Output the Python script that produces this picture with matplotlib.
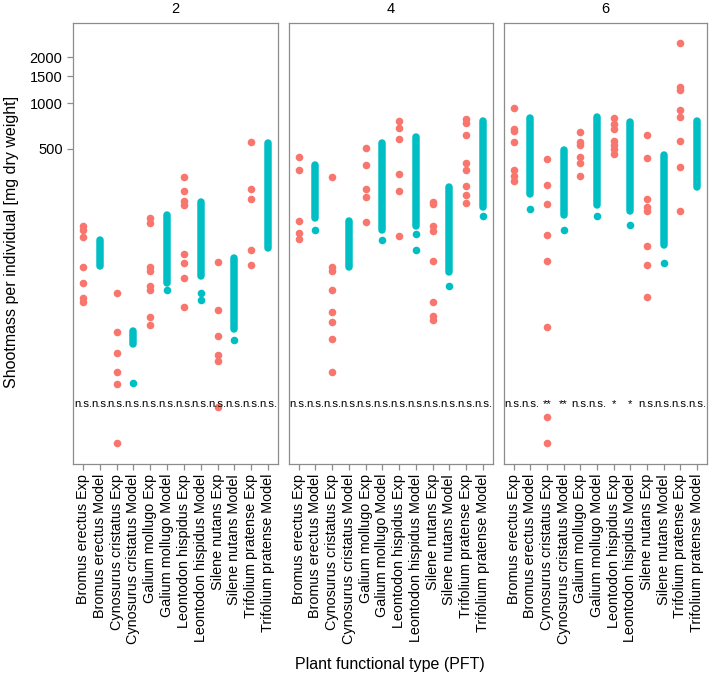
import numpy as np
import matplotlib
matplotlib.use("Agg")
import matplotlib.pyplot as plt

plt.rcParams['font.family'] = ['Liberation Sans', 'DejaVu Sans']

species = ["Bromus erectus", "Cynosurus cristatus", "Galium mollugo",
           "Leontodon hispidus", "Silene nutans", "Trifolium pratense"]
categories = []
for s in species:
    categories += [s + " Exp", s + " Model"]

panels = ["2", "4", "6"]

# Experimental observations (mg dry weight), per species
exp_2 = [
    [157, 148, 133, 84, 66, 53, 50],
    [57, 31.6, 23.2, 17.4, 14.5, 5.9],
    [177, 165, 85, 80, 63, 60, 40, 35],
    [327, 267, 229, 216, 103, 90, 72, 46],
    [91, 44, 30, 22.5, 20.4, 10.3],
    [552, 273, 236, 109, 87],
]
exp_4 = [
    [441, 365, 170, 141, 128],
    [330, 85, 80, 59.5, 42.7, 37.1, 28.7, 17.4],
    [505, 393, 273, 242, 166],
    [763, 691, 578, 343, 267, 134],
    [226, 217, 157, 146, 93, 50, 40.6, 38.2],
    [791, 741, 616, 407, 365, 287, 250, 223],
]
exp_6 = [
    [933, 681, 657, 552, 365, 335, 310],
    [430, 291, 218, 137, 93, 34.4, 8.8, 5.9],
    [642, 552, 530, 445, 403, 335],
    [803, 734, 674, 565, 530, 497, 463],
    [616, 434, 235, 209, 196, 116.5, 87.6, 54],
    [2460, 1271, 1223, 897, 811, 565, 380, 197],
]

# Model simulations: dense range (low, high) plus isolated values
model_range_2 = [(85.4, 127.5), (26.4, 32.2), (66.6, 185.5), (73.5, 226.5), (33.0, 96.9), (112.6, 544)]
model_extra_2 = [[], [14.6], [59.5], [57.3, 51.3], [28.0], []]
model_range_4 = [(176.6, 392.8), (85, 167.8), (146.6, 548.8), (155.7, 600.5), (78.1, 281.2), (208.3, 763.3)]
model_extra_4 = [[146.6], [], [127.5], [139.5, 109.7], [63.3], [182.8]]
model_range_6 = [(254.2, 803.3), (185.5, 491.9), (215.6, 810.5), (195, 752), (118.3, 456.3), (283.7, 763.3)]
model_extra_6 = [[202.1], [148.2], [182.8], [159.7], [89.9], []]

sig_2 = ["n.s."] * 12
sig_4 = ["n.s."] * 12
sig_6 = ["n.s.", "n.s.", "**", "**", "n.s.", "n.s.", "*", "*", "n.s.", "n.s.", "n.s.", "n.s."]
sig_y = 10.7

y_ticks = [500, 1000, 1500, 2000]

exp_all = [exp_2, exp_4, exp_6]
mr_all = [model_range_2, model_range_4, model_range_6]
me_all = [model_extra_2, model_extra_4, model_extra_6]
sig_all = [sig_2, sig_4, sig_6]

RED = "#F8766D"
TEAL = "#00BFC4"
GREY = "#8C8C8C"

W, H = 709, 679
fig = plt.figure(figsize=(W / 100, H / 100), dpi=100)

# y limits from data with 5% expansion on log scale
vals = []
for e in exp_all:
    for lst in e:
        vals += lst
for mr in mr_all:
    for lo, hi in mr:
        vals += [lo, hi]
lv = np.log10(vals)
rng = lv.max() - lv.min()
ylo, yhi = 10 ** (lv.min() - 0.05 * rng), 10 ** (lv.max() + 0.05 * rng)

lefts = [73, 288.5, 503.5]
widths = [205, 204.5, 203.5]
top, bottom = 23.3, 463.5
ms = 30
lw_model = 5.4

for p in range(3):
    ax = fig.add_axes([lefts[p] / W, (H - bottom) / H, widths[p] / W, (bottom - top) / H])
    ax.set_yscale("log")
    ax.set_xlim(0.4, 12.6)
    ax.set_ylim(ylo, yhi)
    for i in range(6):
        xe = 2 * i + 1
        xm = 2 * i + 2
        ev = exp_all[p][i]
        ax.scatter([xe] * len(ev), ev, s=ms, color=RED, linewidths=0, zorder=3)
        lo, hi = mr_all[p][i]
        ax.plot([xm, xm], [lo, hi], color=TEAL, lw=lw_model, solid_capstyle="round", zorder=3)
        ex = me_all[p][i]
        if ex:
            ax.scatter([xm] * len(ex), ex, s=ms, color=TEAL, linewidths=0, zorder=3)
    for k, s in enumerate(sig_all[p]):
        ax.text(k + 1, sig_y, s, ha="center", va="center", fontsize=8.2, color="black")
    ax.set_xticks(range(1, 13))
    ax.set_xticklabels(categories, rotation=90, fontsize=10.4)
    ax.minorticks_off()
    if p == 0:
        ax.set_yticks(y_ticks)
        ax.set_yticklabels([str(t) for t in y_ticks], fontsize=10.5)
    else:
        ax.set_yticks([])
    ax.yaxis.set_minor_locator(matplotlib.ticker.NullLocator())
    ax.tick_params(axis="both", color=GREY, length=4.5, width=0.9, pad=3, labelcolor="black")
    for sp in ax.spines.values():
        sp.set_color(GREY)
        sp.set_linewidth(0.9)
    ax.text(0.5, 1 + 14.5 / (bottom - top), panels[p], transform=ax.transAxes,
            ha="center", va="center", fontsize=10.5)

fig.text(12 / W, 1 - 242 / H, "Shootmass per individual [mg dry weight]", rotation=90,
         ha="center", va="center", fontsize=11.5)
fig.text(390 / W, 1 - 665 / H, "Plant functional type (PFT)", ha="center", va="center", fontsize=11.5)

fig.savefig("out.png", dpi=100)
